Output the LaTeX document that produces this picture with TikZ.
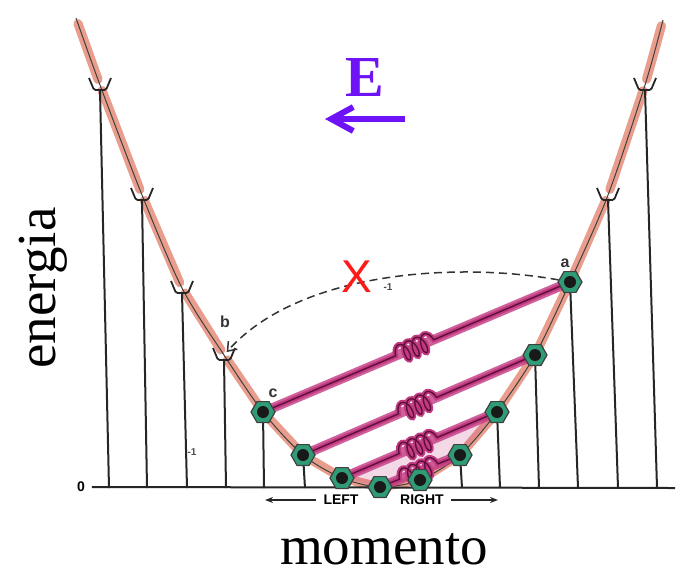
\documentclass[tikz,border=0pt]{standalone}
\usepackage{fontspec}
\setmainfont{Liberation Serif}
\setsansfont{Liberation Sans}
\usepackage{xcolor}
\usetikzlibrary{positioning,arrows.meta,shapes.geometric,decorations.pathmorphing}
\definecolor{bandcol}{HTML}{E0735C}
\definecolor{springcol}{HTML}{C23A82}
\definecolor{springdark}{HTML}{5E0F3A}
\definecolor{atomcol}{HTML}{2F9C76}
\definecolor{fieldcol}{HTML}{6E12F8}
\definecolor{crosscol}{HTML}{FF1A1A}
\pgfdeclarelayer{background}
\pgfsetlayers{background,main}
\tikzset{
  atom/.style={regular polygon, regular polygon sides=6, draw=black!75, fill=atomcol,
    line width=0.6pt, minimum size=12pt, inner sep=0pt,
    path picture={\fill[black!90] (path picture bounding box.center) circle (3pt);}},
  cup/.pic={\draw[line width=0.9pt, line join=round, rounded corners=0.8pt, black!85]
    (-11,-7) -- (-6,5) -- (6,5) -- (11,-7);},
  stem/.style={line width=1pt, black!85},
  glow/.style={line width=4.6pt, bandcol, opacity=0.7, line cap=round,
    shorten <=3pt, shorten >=3pt},
  bandline/.style={line width=0.5pt, black!75},
  springglow/.style={line width=4.8pt, springcol, opacity=0.8, line cap=round},
  spring/.style={draw=springdark, line width=0.7pt, decorate,
    decoration={coil, amplitude=4.6pt, segment length=4.6pt, pre length=#1, post length=#1}},
  jump/.style={dashed, dash pattern=on 4pt off 2.5pt, line width=0.75pt, black!80,
    -{Straight Barb[length=4pt,width=6pt]}, shorten >=2pt},
  field/.style={font=\rmfamily\bfseries\fontsize{29}{30}\selectfont, text=fieldcol},
  fieldarrow/.style={line width=3pt, fieldcol, -{Straight Barb[length=11pt,width=12pt]}},
  cross/.style={font=\sffamily\fontsize{23}{24}\selectfont, text=crosscol},
  axislabel/.style={font=\rmfamily\fontsize{27.5}{28}\selectfont, inner sep=1pt},
  ptlabel/.style={font=\sffamily\bfseries\fontsize{8}{9}\selectfont, black!80},
  tick/.style={font=\sffamily\bfseries\fontsize{5}{6}\selectfont, black!70},
  dirarrow/.style={line width=1pt, black!85, -{Stealth[length=4pt,width=3pt]}},
}

\begin{document}
\begin{tikzpicture}[x=0.5pt, y=-0.5pt,
    every node/.style={font=\sffamily\bfseries\fontsize{7}{8}\selectfont}]
  \useasboundingbox (0,0) rectangle (683,573);

  % band ends and the empty sites
  \coordinate (tl) at (76,18);
  \coordinate (l1) at (100,85);
  \coordinate (l2) at (142,195);
  \coordinate (l3) at (182,288);
  \coordinate (b)  at (224,355);
  \coordinate (r1) at (608,195);
  \coordinate (r2) at (645,85);
  \coordinate (tr) at (663,20);

  % occupied sites
  \node[atom] (c)  at (263,412) {};
  \node[atom] (k1) at (303,455) {};
  \node[atom] (k2) at (342,478) {};
  \node[atom] (k3) at (380,487) {};
  \node[atom] (k4) at (420,480) {};
  \node[atom] (k5) at (460,455) {};
  \node[atom] (k6) at (497,412) {};
  \node[atom] (k7) at (535,355) {};
  \node[atom] (a)  at (570,282) {};

  \foreach \p/\x in {l1/109, l2/147, l3/187, b/226, c/264, k1/305, k2/343, k4/421,
                     k5/462, k6/500, k7/539, a/578, r1/618, r2/657}
    \coordinate (f\p) at (\x,488);

  \node (zero) at (81,487) {0};
  \coordinate (axend) at (675,488);

  \begin{pgfonlayer}{background}
    \foreach \p/\q in {tl/l1, l1/l2, l2/l3, l3/b, b/c, c/k1, k1/k2, k2/k3, k3/k4,
                       k4/k5, k5/k6, k6/k7, k7/a, a/r1, r1/r2, r2/tr}
      \draw[glow] (\p.center) -- (\q.center);
    \draw[bandline] plot[smooth, tension=0.5] coordinates {(tl) (l1) (l2) (l3) (b)
      (c.center) (k1.center) (k2.center) (k3.center) (k4.center) (k5.center)
      (k6.center) (k7.center) (a.center) (r1) (r2) (tr)};

    \draw[stem] (zero.east) -- (axend);
    \foreach \p in {l1,l2,l3,b,r1,r2}
      \draw[stem] ([yshift=-2.5pt]\p) -- (f\p);
    \foreach \p in {c,k1,k2,k4,k5,k6,k7,a}
      \draw[stem] (\p.center) -- (f\p);

    \fill[springcol, opacity=0.2] (k2.center) -- (k6.center) -- (k5.center) -- (k3.center) -- cycle;
    \foreach \s/\t/\pre in {c/a/72pt, k1/k7/52pt, k2/k6/31pt, k3/k5/10.5pt} {
      \draw[springglow] (\s.center) -- (\t.center);
      \draw[spring=\pre, draw=springcol, line width=2.6pt] (\s.center) -- (\t.center);
      \draw[spring=\pre] (\s.center) -- (\t.center);
    }
  \end{pgfonlayer}

  \foreach \p in {l1,l2,l3,b,r1,r2}
    \pic at (\p) {cup};

  \draw[jump] (a) .. controls (460,262) and (300,270) .. (b);

  \node[ptlabel] (alab) at (565,263) {a};
  \node[ptlabel] (blab) at (225,322) {b};
  \node[ptlabel] (clab) at (273,393) {c};
  \node[cross] (x) at (357,277) {X};
  \node[tick] (t1) at (388,287) {-1};
  \node[tick] (t2) at (192,452) {-1};

  % field direction
  \node[field] (E) at (365,78) {E};
  \coordinate (fieldR) at (405,119);
  \coordinate (fieldL) at (325,119);
  \draw[fieldarrow] (fieldR) -- (fieldL);

  \node (left)  at (341,500) {LEFT};
  \node (right) at (422,500) {RIGHT};
  \coordinate (leftend)  at (265,500);
  \coordinate (rightend) at (498,500);
  \draw[dirarrow] (left) -- (leftend);
  \draw[dirarrow] (right) -- (rightend);

  \node[axislabel, rotate=90, anchor=base] (ylab) at (55,288) {energia};
  \node[axislabel, anchor=base] (xlab) at (384,564) {momento};
\end{tikzpicture}
\end{document}
